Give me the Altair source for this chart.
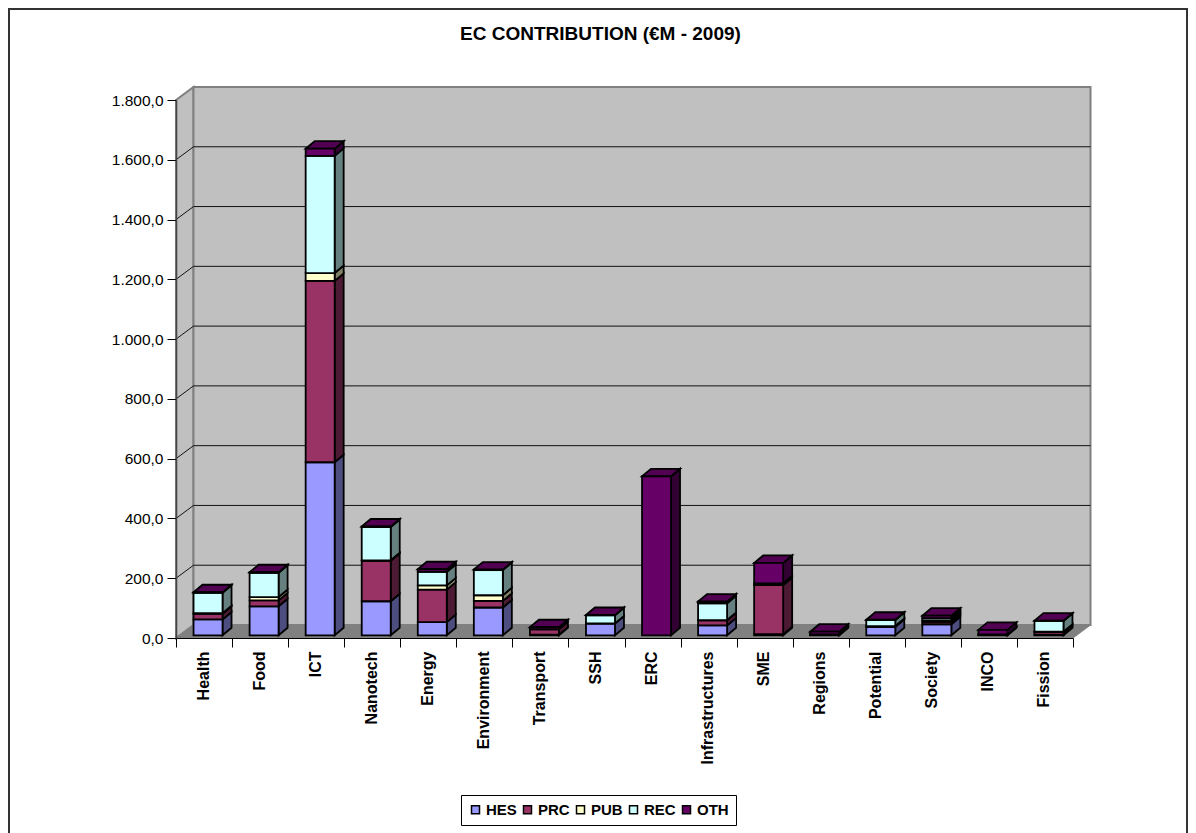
import altair as alt
import pandas as pd

categories = ["Health","Food","ICT","Nanotech","Energy","Environment","Transport","SSH","ERC",
              "Infrastructures","SME","Regions","Potential","Society","INCO","Fission"]
series = ["HES","PRC","PUB","REC","OTH"]
HES = [53,97,579,114,44,93,2,39,0,33,4,1,28,37,1,2]
PRC = [19,20,607,135,109,22,18,0,0,17,164,1,2,8,1,9]
PUB = [2,11,26,2,14,19,0,1,0,1,1,0,1,4,0,1]
REC = [68,81,392,111,45,84,0,27,0,56,5,1,20,8,1,36]
OTH = [2,2,24,2,9,2,7,1,532,6,68,9,1,9,15,1]
values = dict(HES=HES, PRC=PRC, PUB=PUB, REC=REC, OTH=OTH)

front = dict(HES="#9999FF", PRC="#993366", PUB="#FFFFCC", REC="#CCFFFF", OTH="#660066")
side = dict(HES="#4D4D80", PRC="#4D1A33", PUB="#808066", REC="#668080", OTH="#330033")
TOP_FILL = "#520052"
y_ticks = [0,200,400,600,800,1000,1200,1400,1600,1800]

W, H = 897, 538
PAD_L, PAD_T, PAD_R, PAD_B = 168, 92, 115, 195
PX_X, PX_Y = W/16, H/1800
WALL_DX, WALL_DY = 17.5/PX_X, 13/PX_Y
BAR_HALF, BAR_SHIFT = 14.5/PX_X, 4/PX_X
BAR_DX, BAR_DY = 9/PX_X, 7.5/PX_Y
BASE = 2.7/PX_Y
EDGE = 1.8

fronts, sides, tops = [], [], []
for i, cat in enumerate(categories):
    x0 = i + 0.5 + BAR_SHIFT - BAR_HALF
    x1 = i + 0.5 + BAR_SHIFT + BAR_HALF
    acc = BASE
    for s in series:
        v = values[s][i]
        if v <= 0:
            continue
        lo, hi = acc, acc + v
        acc = hi
        fronts.append(dict(x0=x0, x1=x1, lo=lo, hi=hi, series=s))
        key = f"{cat}-{s}"
        sides.append(dict(k=key, x=x1, y=hi, y2=lo, fill=side[s]))
        sides.append(dict(k=key, x=x1+BAR_DX, y=hi+BAR_DY, y2=lo+BAR_DY, fill=side[s]))
    t = acc
    tops += [dict(k=cat, x=x0, y=t, y2=t),
             dict(k=cat, x=x0+BAR_DX, y=t+BAR_DY, y2=t),
             dict(k=cat, x=x1, y=t+BAR_DY, y2=t),
             dict(k=cat, x=x1+BAR_DX, y=t+BAR_DY, y2=t+BAR_DY)]

xs = alt.Scale(domain=[0,16], nice=False, zero=False)
ys = alt.Scale(domain=[0,1800], nice=False, zero=False)
X = lambda f="x": alt.X(f"{f}:Q", scale=xs, axis=None)
Y = lambda f="y": alt.Y(f"{f}:Q", scale=ys, stack=False,
    axis=alt.Axis(values=y_ticks, title=None, grid=False, zindex=2, domainColor="#444444", domainWidth=1.5,
                  tickColor="black", tickWidth=1, tickSize=9, labelColor="black", labelFontSize=15.5,
                  labelFont="Liberation Sans", labelPadding=4,
                  labelExpr="replace(replace(replace(format(datum.value,',.1f'),',','_'),'.',','),'_','.')"))
Y2 = lambda f="y2": alt.Y2(f"{f}:Q")

# walls & floor
left_wall = pd.DataFrame([dict(x=0,y=1800,y2=0),dict(x=WALL_DX,y=1800+WALL_DY,y2=WALL_DY)])
back_wall = pd.DataFrame([dict(x=WALL_DX,y=1800+WALL_DY,y2=WALL_DY),dict(x=16+WALL_DX,y=1800+WALL_DY,y2=WALL_DY)])
floor = pd.DataFrame([dict(x=0,y=0,y2=0),dict(x=WALL_DX,y=WALL_DY,y2=0),dict(x=16,y=WALL_DY,y2=0),dict(x=16+WALL_DX,y=WALL_DY,y2=WALL_DY)])
def wall(df, fill, sw=2):
    return alt.Chart(df).mark_area(orient="vertical", fill=fill, stroke="#808080", strokeWidth=sw).encode(x=X(), y=Y(), y2=Y2())

grid = []
for t in y_ticks[1:-1]:
    grid += [dict(t=t,x=0,y=t),dict(t=t,x=WALL_DX,y=t+WALL_DY),dict(t=t,x=16+WALL_DX,y=t+WALL_DY)]
grid_l = alt.Chart(pd.DataFrame(grid)).mark_line(color="#111111", strokeWidth=1).encode(x=X(), y=Y(), detail="t:N")

side_l = alt.Chart(pd.DataFrame(sides)).mark_area(orient="vertical", stroke="black", strokeWidth=EDGE).encode(
    x=X(), y=Y(), y2=Y2(), detail="k:N", fill=alt.Fill("fill:N", scale=None))
top_l = alt.Chart(pd.DataFrame(tops)).mark_area(orient="vertical", stroke="black", strokeWidth=EDGE, fill=TOP_FILL).encode(
    x=X(), y=Y(), y2=Y2(), detail="k:N")
front_l = alt.Chart(pd.DataFrame(fronts)).mark_rect(stroke="black", strokeWidth=EDGE).encode(
    x=X("x0"), x2=alt.X2("x1:Q"), y=Y("lo"), y2=Y2("hi"),
    fill=alt.Fill("series:N", scale=alt.Scale(domain=series, range=[front[s] for s in series]),
                  legend=alt.Legend(title=None, orient="none", legendX=285, legendY=695, direction="horizontal",
                                    columns=5, symbolType="square", symbolSize=64, symbolStrokeColor="black",
                                    symbolStrokeWidth=1.5, labelFont="Liberation Sans", labelFontSize=15,
                                    labelFontWeight="bold", labelColor="black", fillColor="white",
                                    strokeColor="black", padding=7, columnPadding=3, labelOffset=3)))

# axis of categories
axis_l = alt.Chart(pd.DataFrame(dict(cat=categories))).mark_point(opacity=0).encode(
    x=alt.X("cat:N", sort=categories, scale=alt.Scale(paddingInner=0, paddingOuter=0),
            axis=alt.Axis(title=None, tickBand="extent", labelAngle=270, labelAlign="right", labelBaseline="middle",
                          labelFont="Liberation Sans", labelFontWeight="bold", labelFontSize=16, labelColor="black",
                          labelOffset=-1, domainColor="black", tickColor="black", tickSize=9, labelPadding=4,
                          zindex=2, grid=False, labelOverlap=False)))

# outer frame, as far out as the page margin allows (its bottom side is faint in the reference, so it lies off the picture)
frame = alt.Chart(pd.DataFrame(dict(a=[0]))).mark_rect(fill="white", stroke="#333333", strokeWidth=2).encode(
    x=alt.value(1-PAD_L), x2=alt.value(W+PAD_R-1), y=alt.value(1-PAD_T), y2=alt.value(H+PAD_B+4))

chart = alt.layer(frame, wall(left_wall,"#C0C0C0"), wall(back_wall,"#C0C0C0"), wall(floor,"#808080",1),
                  grid_l, side_l, top_l, front_l, axis_l).resolve_scale(x="independent").properties(
    width=W, height=H,
    padding=dict(left=PAD_L, top=PAD_T, right=PAD_R, bottom=PAD_B),
    autosize=alt.AutoSizeParams(type="none"),
    background="white",
    title=alt.TitleParams("EC CONTRIBUTION (€M - 2009)", font="Liberation Sans", fontSize=19, fontWeight="bold",
                          color="black", anchor="middle", frame="group", dx=-24, offset=-36),
).configure_view(stroke=None)

chart.save("out.html", embed_options={"renderer": "svg", "actions": False})
